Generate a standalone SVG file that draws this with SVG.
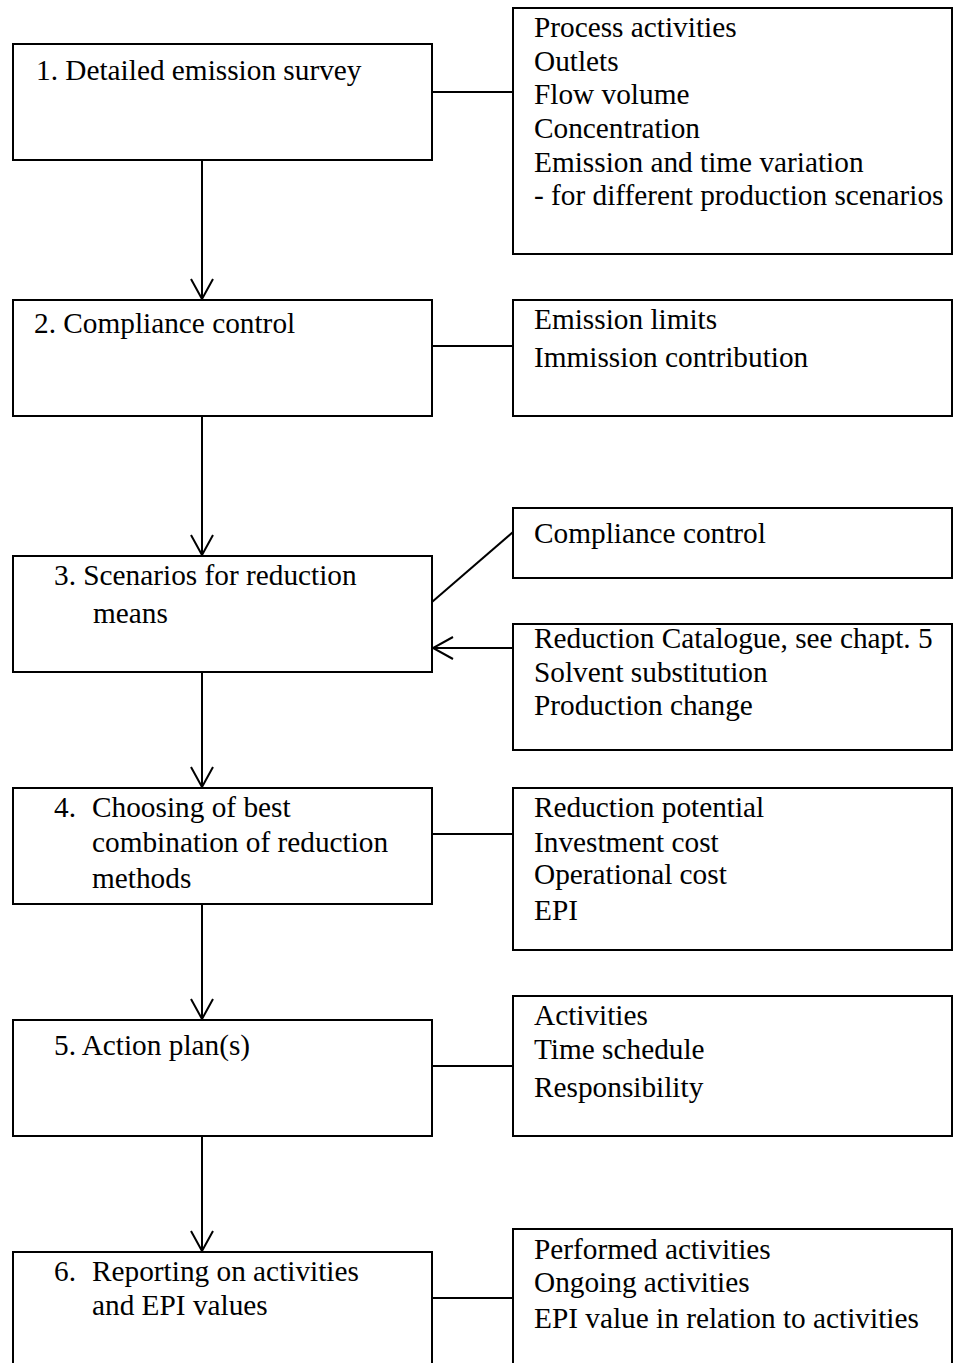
<svg xmlns="http://www.w3.org/2000/svg" width="959" height="1363" viewBox="0 0 959 1363">
  <style>
    .box { fill: #fff; stroke: #000; stroke-width: 2; }
    .t { font-family: "Liberation Serif", "Times New Roman", serif; font-size: 29.3px; fill: #000; }
    .link { fill: none; stroke: #000; stroke-width: 2; }
  </style>
  <defs>
    <marker id="open-arrow" markerUnits="userSpaceOnUse" markerWidth="24" markerHeight="26" viewBox="-22 -13 24 26" refX="0" refY="0" orient="auto">
      <path d="M-20,-11 L0,0 L-20,11" fill="none" stroke="#000" stroke-width="2"/>
    </marker>
  </defs>
  <rect width="959" height="1363" fill="#fff"/>

  <!-- connectors -->
  <g id="connectors">
    <line class="link" x1="202" y1="160" x2="202" y2="299" marker-end="url(#open-arrow)"/>
    <line class="link" x1="202" y1="416" x2="202" y2="555" marker-end="url(#open-arrow)"/>
    <line class="link" x1="202" y1="672" x2="202" y2="787" marker-end="url(#open-arrow)"/>
    <line class="link" x1="202" y1="904" x2="202" y2="1019" marker-end="url(#open-arrow)"/>
    <line class="link" x1="202" y1="1136" x2="202" y2="1251" marker-end="url(#open-arrow)"/>
    <line class="link" x1="432" y1="92" x2="513" y2="92"/>
    <line class="link" x1="432" y1="346" x2="513" y2="346"/>
    <line class="link" x1="432" y1="602" x2="513" y2="532"/>
    <line class="link" x1="513" y1="648" x2="433" y2="648" marker-end="url(#open-arrow)"/>
    <line class="link" x1="432" y1="834" x2="513" y2="834"/>
    <line class="link" x1="432" y1="1066" x2="513" y2="1066"/>
    <line class="link" x1="432" y1="1298" x2="513" y2="1298"/>
  </g>

  <!-- step 1 -->
  <g id="step1">
    <rect class="box" x="13" y="44" width="419" height="116"/>
    <text class="t" x="36" y="80">1. Detailed emission survey</text>
  </g>
  <g id="step1-details">
    <rect class="box" x="513" y="8" width="439" height="246"/>
    <text class="t" x="534" y="37">Process activities</text>
    <text class="t" x="534" y="71">Outlets</text>
    <text class="t" x="534" y="104">Flow volume</text>
    <text class="t" x="534" y="138">Concentration</text>
    <text class="t" x="534" y="172">Emission and time variation</text>
    <text class="t" x="534" y="205">- for different production scenarios</text>
  </g>

  <!-- step 2 -->
  <g id="step2">
    <rect class="box" x="13" y="300" width="419" height="116"/>
    <text class="t" x="34" y="333">2. Compliance control</text>
  </g>
  <g id="step2-details">
    <rect class="box" x="513" y="300" width="439" height="116"/>
    <text class="t" x="534" y="329">Emission limits</text>
    <text class="t" x="534" y="367">Immission contribution</text>
  </g>

  <!-- step 3 -->
  <g id="step3">
    <rect class="box" x="13" y="556" width="419" height="116"/>
    <text class="t" x="54" y="585">3. Scenarios for reduction</text>
    <text class="t" x="93" y="623">means</text>
  </g>
  <g id="step3-check">
    <rect class="box" x="513" y="508" width="439" height="70"/>
    <text class="t" x="534" y="543">Compliance control</text>
  </g>
  <g id="step3-catalogue">
    <rect class="box" x="513" y="624" width="439" height="126"/>
    <text class="t" x="534" y="648">Reduction Catalogue, see chapt. 5</text>
    <text class="t" x="534" y="682">Solvent substitution</text>
    <text class="t" x="534" y="715">Production change</text>
  </g>

  <!-- step 4 -->
  <g id="step4">
    <rect class="box" x="13" y="788" width="419" height="116"/>
    <text class="t" x="54" y="817">4.</text>
    <text class="t" x="92" y="817">Choosing of best</text>
    <text class="t" x="92" y="852">combination of reduction</text>
    <text class="t" x="92" y="888">methods</text>
  </g>
  <g id="step4-details">
    <rect class="box" x="513" y="788" width="439" height="162"/>
    <text class="t" x="534" y="817">Reduction potential</text>
    <text class="t" x="534" y="852">Investment cost</text>
    <text class="t" x="534" y="884">Operational cost</text>
    <text class="t" x="534" y="920">EPI</text>
  </g>

  <!-- step 5 -->
  <g id="step5">
    <rect class="box" x="13" y="1020" width="419" height="116"/>
    <text class="t" x="54" y="1055">5. Action plan(s)</text>
  </g>
  <g id="step5-details">
    <rect class="box" x="513" y="996" width="439" height="140"/>
    <text class="t" x="534" y="1025">Activities</text>
    <text class="t" x="534" y="1059">Time schedule</text>
    <text class="t" x="534" y="1097">Responsibility</text>
  </g>

  <!-- step 6 (runs past the lower edge) -->
  <g id="step6">
    <rect class="box" x="13" y="1252" width="419" height="130"/>
    <text class="t" x="54" y="1281">6.</text>
    <text class="t" x="92" y="1281">Reporting on activities</text>
    <text class="t" x="92" y="1315">and EPI values</text>
  </g>
  <g id="step6-details">
    <rect class="box" x="513" y="1229" width="439" height="150"/>
    <text class="t" x="534" y="1259">Performed activities</text>
    <text class="t" x="534" y="1292">Ongoing activities</text>
    <text class="t" x="534" y="1328">EPI value in relation to activities</text>
  </g>
</svg>
